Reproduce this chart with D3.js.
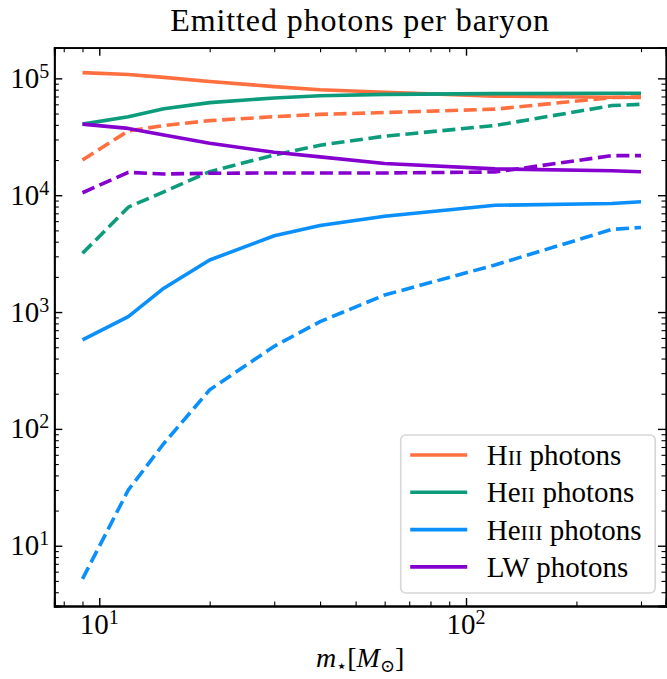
<!DOCTYPE html>
<html lang="en">
<head>
<meta charset="UTF-8">
<title>Emitted photons per baryon</title>
<script src="https://cdn.jsdelivr.net/npm/d3@7"></script>
<style>
  body { margin: 0; background: #fff; }
  svg text { font-family: 'Liberation Serif', 'DejaVu Serif', serif; }
</style>
</head>
<body>
<svg id="chart" width="667" height="679"></svg>
<script>
// stellar mass grid (x) and photon yields per baryon (y)
var masses = [9, 12, 15, 20, 30, 40, 60, 120, 250, 300];

var hiiSolid    = [1.12e5, 1.08e5, 1.02e5, 9.4e4, 8.5e4, 8.0e4, 7.6e4, 7.05e4, 6.9e4, 6.85e4];
var hiiDashed   = [2.0e4, 3.55e4, 3.95e4, 4.35e4, 4.7e4, 4.92e4, 5.1e4, 5.45e4, 6.85e4, 6.95e4];
var heiiSolid   = [4.06e4, 4.7e4, 5.5e4, 6.2e4, 6.8e4, 7.1e4, 7.3e4, 7.4e4, 7.45e4, 7.45e4];
var heiiDashed  = [3.18e3, 7.9e3, 1.07e4, 1.59e4, 2.21e4, 2.68e4, 3.2e4, 3.95e4, 5.85e4, 6.0e4];
var heiiiSolid  = [577, 914, 1600, 2790, 4500, 5500, 6600, 8200, 8500, 8800];
var heiiiDashed = [5.2, 30, 75, 216, 510, 828, 1400, 2530, 5100, 5300];
var lwSolid     = [4.06e4, 3.73e4, 3.27e4, 2.78e4, 2.33e4, 2.13e4, 1.87e4, 1.68e4, 1.62e4, 1.59e4];
var lwDashed    = [1.05e4, 1.57e4, 1.52e4, 1.54e4, 1.55e4, 1.55e4, 1.55e4, 1.58e4, 2.18e4, 2.18e4];

var xMajor = [10, 100];
var yMajor = [10, 100, 1e3, 1e4, 1e5];

var series = [
  {pre: "H",  sc: "II",  color: "#ff6f3f", solid: hiiSolid,   dashed: hiiDashed},
  {pre: "He", sc: "II",  color: "#0c9c7c", solid: heiiSolid,  dashed: heiiDashed},
  {pre: "He", sc: "III", color: "#0a8ffb", solid: heiiiSolid, dashed: heiiiDashed},
  {pre: "LW", sc: "",    color: "#8500cf", solid: lwSolid,    dashed: lwDashed}
];

var margin = {left: 54.3, top: 47.7, right: 1, bottom: 73};
var W = 667, H = 679;
var w = W - margin.left - margin.right;
var h = H - margin.top - margin.bottom;

var svg = d3.select("#chart");
var g = svg.append("g").attr("transform", "translate(" + margin.left + "," + margin.top + ")");

var x = d3.scaleLog().domain([7.54, 351]).range([0, w]);
var y = d3.scaleLog().domain([3.05, 1.83e5]).range([h, 0]);

function isMajor(v) {
  var l = Math.log10(v);
  return Math.abs(l - Math.round(l)) < 1e-9;
}
var xMinor = x.ticks().filter(function (v) { return !isMajor(v); });
var yMinor = y.ticks().filter(function (v) { return !isMajor(v); });

// lines
var line = d3.line()
  .x(function (d, i) { return x(masses[i]); })
  .y(function (d) { return y(d); });

var lines = g.append("g");
series.forEach(function (s) {
  lines.append("path")
    .attr("d", line(s.solid))
    .attr("fill", "none")
    .attr("stroke", s.color)
    .attr("stroke-width", 3.6)
    .attr("stroke-linejoin", "round");
  lines.append("path")
    .attr("d", line(s.dashed))
    .attr("fill", "none")
    .attr("stroke", s.color)
    .attr("stroke-width", 3.6)
    .attr("stroke-dasharray", "13,5.6");
});

// axes, ticks inward on all sides
function axis(gen, scale, vals, size, tr) {
  var a = g.append("g").attr("transform", tr || null)
    .call(gen(scale).tickValues(vals).tickSize(size).tickFormat(""));
  a.selectAll(".tick line").attr("stroke", "#000").attr("stroke-width", size < -6 ? 1.4 : 1.1);
  a.select(".domain").attr("stroke", "#000").attr("stroke-width", 1.8);
  a.selectAll("text").remove();
  return a;
}
axis(d3.axisBottom, x, xMajor, -8, "translate(0," + h + ")");
axis(d3.axisBottom, x, xMinor, -4.5, "translate(0," + h + ")");
axis(d3.axisTop, x, xMajor, -8);
axis(d3.axisTop, x, xMinor, -4.5);
axis(d3.axisLeft, y, yMajor, -8);
axis(d3.axisLeft, y, yMinor, -4.5);
axis(d3.axisRight, y, yMajor, -8, "translate(" + w + ",0)");
axis(d3.axisRight, y, yMinor, -4.5, "translate(" + w + ",0)");

// tick labels as 10^n
function powLabel(t, v) {
  t.append("tspan").text("10");
  t.append("tspan").attr("font-size", 20).attr("dy", -10).text(Math.round(Math.log10(v)));
}
xMajor.forEach(function (v) {
  var t = g.append("text")
    .attr("x", x(v))
    .attr("y", h + 28.5)
    .attr("text-anchor", "middle")
    .attr("font-size", 29);
  powLabel(t, v);
});
yMajor.forEach(function (v) {
  var t = g.append("text")
    .attr("x", -5)
    .attr("y", y(v) + 9.5)
    .attr("text-anchor", "end")
    .attr("font-size", 29);
  powLabel(t, v);
});

// title
svg.append("text")
  .attr("x", margin.left + w / 2)
  .attr("y", 31)
  .attr("text-anchor", "middle")
  .attr("font-size", 32)
  .attr("letter-spacing", 0.9)
  .text("Emitted photons per baryon");

// x label: m_star [M_sun]
var xl = svg.append("text")
  .attr("x", margin.left + w / 2)
  .attr("y", 667)
  .attr("text-anchor", "middle")
  .attr("font-size", 28);
xl.append("tspan").attr("font-style", "italic").text("m");
xl.append("tspan").attr("font-size", 18).attr("dy", 5).text("\u22c6");
xl.append("tspan").attr("dy", -5).text("[");
xl.append("tspan").attr("font-style", "italic").text("M");
xl.append("tspan").attr("font-size", 18).attr("dy", 5).text("\u2299");
xl.append("tspan").attr("dy", -5).text("]");

// legend
var leg = svg.append("g").attr("transform", "translate(400.7,435)");
leg.append("rect")
  .attr("width", 254.5)
  .attr("height", 158)
  .attr("rx", 5)
  .attr("fill", "#fff")
  .attr("fill-opacity", 0.8)
  .attr("stroke", "#d6d6d6")
  .attr("stroke-width", 1.6);
series.forEach(function (s, i) {
  var yy = 20 + i * 37.3;
  leg.append("line")
    .attr("x1", 9.5).attr("x2", 66.5)
    .attr("y1", yy).attr("y2", yy)
    .attr("stroke", s.color)
    .attr("stroke-width", 3.6);
  var t = leg.append("text")
    .attr("x", 86)
    .attr("y", yy + 10)
    .attr("font-size", 29);
  t.append("tspan").text(s.pre);
  if (s.sc) t.append("tspan").attr("font-size", 22).text(s.sc);
  t.append("tspan").text(" photons");
});
</script>
</body>
</html>
